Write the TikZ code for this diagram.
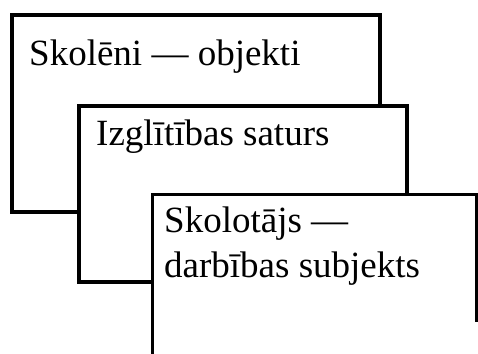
\documentclass[tikz,border=0pt]{standalone}
\usepackage{fontspec}
\setmainfont{Liberation Serif}
\begin{document}
\begin{tikzpicture}[x=1pt,y=-1pt,
  card/.style={draw=black,fill=white,line width=3.8pt,line join=miter},
  label/.style={anchor=base west,inner sep=0pt,font=\fontsize{37}{45}\selectfont}]
  \useasboundingbox (0,0) rectangle (478,353);
  % back card
  \draw[card] (12,15) rectangle (380,212);
  \node[label] (objekti) at (29,65) {Skolēni — objekti};
  % middle card
  \draw[card] (79,106) rectangle (407,282);
  \node[label] (saturs) at (96,145) {Izglītības saturs};
  % front card, running off the bottom
  \fill[white] (152,194) rectangle (476,360);
  \draw[card,line width=3pt,fill=none] (152,360) -- (152,194) -- (476,194) -- (476,322);
  \node[label] (skolotajs) at (164,232) {Skolotājs —};
  \node[label] (subjekts) at (164,277) {darbības subjekts};
\end{tikzpicture}
\end{document}
